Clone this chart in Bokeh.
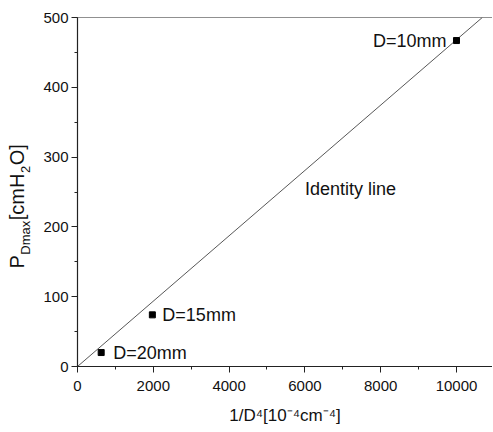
import math
from bokeh.plotting import figure
from bokeh.layouts import row
from bokeh.models import Range1d, SingleIntervalTicker, Span, Label
from bokeh.core.properties import value
from bokeh.embed import file_html
from bokeh.resources import INLINE

# ---- data ----
inv_d4 = [625, 1975, 10000]          # 1/D^4 [1e-4 cm^-4]
p_dmax = [20, 74, 467]               # P_Dmax [cmH2O]
point_labels = ["D=20mm", "D=15mm", "D=10mm"]
identity_x = [0, 10680]
identity_y = [0, 500]
x_tick_step = 2000
y_tick_step = 100

FONT = "Liberation Sans"
H = 428
LEFT_W = 38
TOP, BOTTOM = 17, 62
FRAME_H = H - TOP - BOTTOM

p = figure(width=492 - LEFT_W, height=H, output_backend="svg", toolbar_location=None,
           x_range=Range1d(0, 10950), y_range=Range1d(0, 500),
           min_border_left=77 - LEFT_W, min_border_right=0, min_border_top=TOP,
           min_border_bottom=BOTTOM)
p.outline_line_color = None
p.grid.visible = False
p.background_fill_color = "white"
p.border_fill_color = "white"

for ax, step in ((p.xaxis, x_tick_step), (p.yaxis, y_tick_step)):
    ax.ticker = SingleIntervalTicker(interval=step, num_minor_ticks=2)
    ax.axis_line_color = "#222"
    ax.axis_line_width = 1.2
    ax.major_tick_line_color = "#222"
    ax.minor_tick_line_color = "#222"
    ax.major_tick_out = 6
    ax.major_tick_in = 0
    ax.minor_tick_out = 3
    ax.minor_tick_in = 0
    ax.major_label_text_font = FONT
    ax.major_label_text_font_size = "15px"
    ax.major_label_text_color = "#111"

p.xaxis.major_label_standoff = 8
p.yaxis.major_label_standoff = 3

p.xaxis.axis_label = "1/D\u2074[10\u207b\u2074cm\u207b\u2074]"
p.xaxis.axis_label_text_font = FONT
p.xaxis.axis_label_text_font_style = "normal"
p.xaxis.axis_label_text_font_size = "17px"
p.xaxis.axis_label_text_color = "#111"
p.xaxis.axis_label_standoff = 12

# top frame line
p.add_layout(Span(location=500, dimension="width", line_color="#222", line_width=1.2))

# identity line
p.line(identity_x, identity_y, line_color="#444", line_width=0.9)

# points
p.scatter(inv_d4, p_dmax, marker="square", size=6, color="black")

# point labels
offsets = [(12, "left"), (10, "left"), (-10, "right")]
for i, (dx, align) in enumerate(offsets):
    p.text(x=[inv_d4[i]], y=[p_dmax[i]], text=[point_labels[i]], x_offset=dx,
           text_align=align, text_baseline="middle", text_font=value(FONT),
           text_font_size="18px", text_color="#111")

p.add_layout(Label(x=6000, y=255, text="Identity line", text_align="left",
                   text_baseline="middle", text_font=FONT, text_font_size="18px",
                   text_color="#111"))

# ---- left strip holding the composite rotated y-axis label: P_Dmax[cmH_2O] ----
q = figure(width=LEFT_W, height=H, output_backend="svg", toolbar_location=None,
           x_range=Range1d(0, LEFT_W), y_range=Range1d(0, FRAME_H),
           min_border_left=0, min_border_right=0, min_border_top=TOP,
           min_border_bottom=BOTTOM, x_axis_type=None, y_axis_type=None)
q.outline_line_color = None
q.grid.visible = False
q.border_fill_color = "white"

W = {"P": .667, "D": .722, "m": .833, "a": .556, "x": .5, "[": .278, "c": .5,
     "H": .722, "2": .556, "O": .778, "]": .278}
main_fs, sub_fs = 20, 13
pieces = [("P", main_fs, 16), ("Dmax", sub_fs, 25), ("[cmH", main_fs, 16),
          ("2", sub_fs, 25), ("O]", main_fs, 16)]
ypos = (H - BOTTOM) - 268
for txt, fs, xb in pieces:
    q.add_layout(Label(x=xb, y=ypos, text=txt,
                       angle=math.pi / 2, text_align="left", text_baseline="alphabetic",
                       text_font=FONT, text_font_size=f"{fs}px", text_color="#111"))
    ypos += sum(W[c] for c in txt) * fs + 0.5

layout = row(q, p, spacing=0)
open("out.html", "w").write(file_html(layout, INLINE))
